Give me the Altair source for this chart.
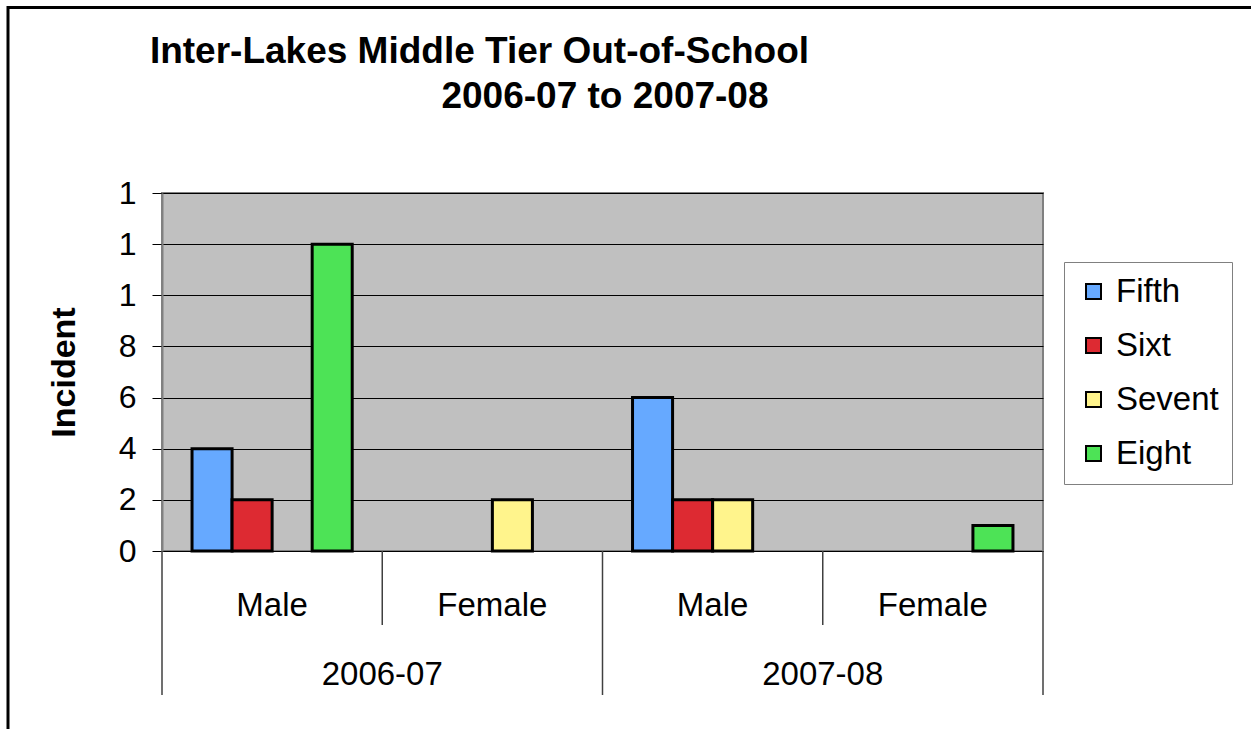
import altair as alt
import pandas as pd

# ---- data ----
grades = ["Fifth", "Sixt", "Sevent", "Eight"]
years = ["2006-07", "2007-08"]
genders = ["Male", "Female"]
fifth = [4, 0, 6, 0]
sixth = [2, 0, 2, 0]
seventh = [0, 2, 2, 0]
eighth = [12, 0, 0, 1]
colors = ["#66A9FF", "#DD2A32", "#FFF48C", "#4DE356"]
title_line1 = "Inter-Lakes Middle Tier Out-of-School"
title_line2 = "2006-07 to 2007-08"
y_title = "Incident"
y_ticks = [0, 2, 4, 6, 8, 10, 12, 14]

FONT = "Liberation Sans"
W, H = 881, 358

combos = [(y, g) for y in years for g in genders]
keys = [f"{y} {g}" for y, g in combos]
series = dict(zip(grades, [fifth, sixth, seventh, eighth]))

rows = []
for i, (yr, gd) in enumerate(combos):
    for gr in grades:
        rows.append({"key": keys[i], "year": yr, "gender": gd, "grade": gr, "value": series[gr][i]})
df = pd.DataFrame(rows)

groups = pd.DataFrame({"key": keys, "year": [c[0] for c in combos], "gender": [c[1] for c in combos]})
male_groups = groups[groups.gender == "Male"]
female_groups = groups[groups.gender == "Female"]
last_group = groups.tail(1)

xscale = alt.Scale(domain=keys, paddingInner=0, paddingOuter=0)

bars = alt.Chart(df).transform_filter("datum.value > 0").mark_bar(
    stroke="black", strokeWidth=3
).encode(
    x=alt.X("key:N", scale=xscale, axis=None, sort=keys),
    xOffset=alt.XOffset("grade:N", sort=grades,
                        scale=alt.Scale(domain=grades, paddingOuter=0.75, paddingInner=0)),
    y=alt.Y("value:Q", scale=alt.Scale(domain=[0, 14], nice=False),
            axis=alt.Axis(values=y_ticks, labelExpr="substring(datum.label, 0, 1)",
                          tickSize=10, tickColor="black", tickWidth=1,
                          labelFontSize=32, labelColor="black", labelPadding=16, labelFont=FONT,
                          title=y_title, titleFontSize=34, titleFontWeight="bold",
                          titleColor="black", titleFont=FONT, titlePadding=37,
                          domainColor="#808080", domainWidth=2,
                          grid=True, gridColor="black", gridWidth=1)),
    color=alt.Color("grade:N", scale=alt.Scale(domain=grades, range=colors),
                    legend=alt.Legend(title=None, orient="none", legendX=902, legendY=69,
                                      strokeColor="#808080", fillColor="white", padding=13,
                                      symbolType="square", symbolSize=225,
                                      symbolStrokeColor="black", symbolStrokeWidth=2,
                                      labelFontSize=33, labelFont=FONT, labelColor="black",
                                      labelOffset=6, rowPadding=20)),
)

gender_labels = alt.Chart(groups).mark_text(fontSize=33, font=FONT, color="black",
                                            baseline="alphabetic", align="center").encode(
    x=alt.X("key:N", scale=xscale, axis=None, sort=keys),
    y=alt.value(H + 65),
    text="gender:N",
)

year_labels = alt.Chart(male_groups).mark_text(fontSize=33, font=FONT, color="black",
                                               baseline="alphabetic", align="center").encode(
    x=alt.X("key:N", scale=xscale, axis=None, sort=keys, bandPosition=1),
    y=alt.value(H + 134),
    text="year:N",
)

long_rules = alt.Chart(male_groups).mark_rule(color="#404040", strokeWidth=1.5).encode(
    x=alt.X("key:N", scale=xscale, axis=None, sort=keys, bandPosition=0),
    y=alt.value(H), y2=alt.value(H + 144),
)
end_rule = alt.Chart(last_group).mark_rule(color="#404040", strokeWidth=1.5).encode(
    x=alt.X("key:N", scale=xscale, axis=None, sort=keys, bandPosition=1),
    y=alt.value(H), y2=alt.value(H + 144),
)
short_rules = alt.Chart(female_groups).mark_rule(color="#404040", strokeWidth=1.5).encode(
    x=alt.X("key:N", scale=xscale, axis=None, sort=keys, bandPosition=0),
    y=alt.value(H), y2=alt.value(H + 74),
)

t1 = alt.Chart(pd.DataFrame({"t": [title_line1]})).mark_text(
    fontSize=37, fontWeight="bold", font=FONT, color="black", align="center", baseline="alphabetic"
).encode(text="t:N", x=alt.value(317.5), y=alt.value(-130))
t2 = alt.Chart(pd.DataFrame({"t": [title_line2]})).mark_text(
    fontSize=37, fontWeight="bold", font=FONT, color="black", align="center", baseline="alphabetic"
).encode(text="t:N", x=alt.value(443), y=alt.value(-85))

frame = alt.Chart(pd.DataFrame({"f": [1]})).mark_rect(
    filled=False, stroke="black", strokeWidth=3
).encode(x=alt.value(-154), x2=alt.value(1200), y=alt.value(-185.5), y2=alt.value(700))

chart = alt.layer(
    frame, bars, long_rules, end_rule, short_rules, gender_labels, year_labels, t1, t2
).properties(
    width=W, height=H,
    autosize=alt.AutoSizeParams(type="none"),
    padding={"left": 162, "top": 193, "right": 1251 - 162 - W, "bottom": 729 - 193 - H},
).configure(
    background="white", font=FONT
).configure_view(
    fill="#C0C0C0", stroke="#808080", strokeWidth=2
)

chart.save("out.html", embed_options={"renderer": "svg", "actions": False})
